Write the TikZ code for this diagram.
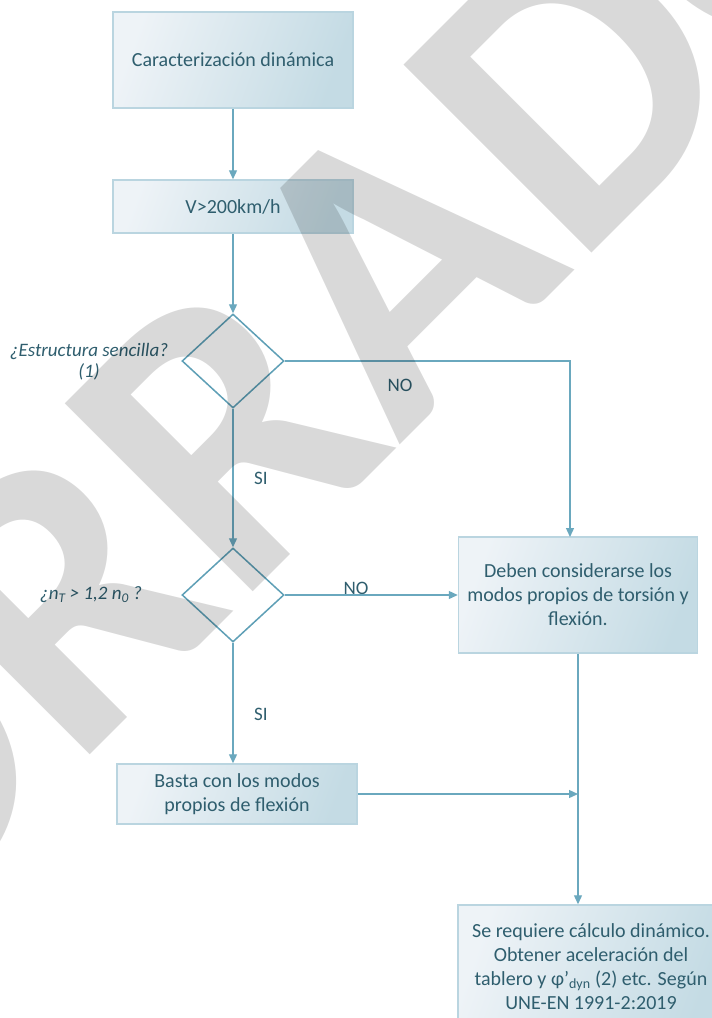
\documentclass[tikz,border=0pt]{standalone}
\usepackage{fontspec}
\setmainfont{Carlito}
\usetikzlibrary{shapes.geometric,arrows.meta}
\definecolor{txt}{HTML}{2F5E6E}
\definecolor{ln}{HTML}{6AA8BE}
\definecolor{bord}{HTML}{BAD5E0}
\definecolor{bl}{HTML}{EEF3F7}
\definecolor{bd}{HTML}{C4DBE4}
\definecolor{dline}{HTML}{5E9FB6}
\begin{document}
\begin{tikzpicture}[x=1pt,y=-1pt,
  box/.style={draw=bord, line width=1.5pt, left color=bl, right color=bd, shading angle=70,
    text=txt, align=center, inner sep=0pt, font=\fontsize{20}{24}\selectfont},
  diam/.style={draw=dline, line width=1.5pt, shape=diamond, minimum width=102pt,
    minimum height=94pt, inner sep=0pt},
  conn/.style={draw=ln, line width=1.3pt, -{Triangle[length=9pt,width=8pt]}},
  lbl/.style={text=txt, align=center, inner sep=0pt, font=\fontsize{19}{21}\selectfont},
  wm/.style={text=black, opacity=0.15, inner sep=0pt, font=\fontsize{410}{410}\selectfont\bfseries}]
\useasboundingbox (0,0) rectangle (712,1018);
\fill[white] (0,0) rectangle (712,1018);
\clip (0,0) rectangle (712,1018);

\node[box, minimum width=240pt, minimum height=96pt] (b1) at (233,60) {Caracterización dinámica};
\node[box, minimum width=240pt, minimum height=53pt] (b2) at (233,206.5) {V>200km/h};
\node[diam] (d1) at (233,361) {};
\node[diam] (d2) at (233,595) {};
\node[box, minimum width=239pt, minimum height=116pt] (b3) at (578,595)
  {Deben considerarse los\\ modos propios de torsión y\\ flexión.};
\node[box, minimum width=240pt, minimum height=60pt] (b4) at (237,794)
  {Basta con los modos\\ propios de flexión};
\node[box, minimum width=266pt, minimum height=124pt] (b5) at (591,967)
  {Se requiere cálculo dinámico.\\ Obtener aceleración del\\ tablero y φ’\textsubscript{dyn} (2) etc. Según\\ UNE-EN 1991-2:2019};

\node[lbl, font=\fontsize{19}{21}\selectfont\itshape] (q1) at (89,362) {¿Estructura sencilla?\\ (1)};
\node[lbl, font=\fontsize{19}{21}\selectfont\itshape] (q2) at (91,595)
  {¿n\textsubscript{T} > 1,2 n\textsubscript{0} ?};
\node[lbl] (no1) at (400,385) {NO};
\node[lbl] (si1) at (261,478) {SI};
\node[lbl] (no2) at (356,588) {NO};
\node[lbl] (si2) at (261,714) {SI};

\coordinate (c1) at (570,361);
\coordinate (c2) at (570,537);

\draw[conn] (b1.south) -- (b2.north);
\draw[conn] (b2.south) -- (d1.north);
\draw[conn] (d1.east) -- (c1) -- (c2);
\draw[conn] (d1.south) -- (d2.north);
\draw[conn] (d2.east) -- (b3.west);
\draw[conn] (d2.south) -- (d2.south |- b4.north);
\draw[conn] (b3.south) -- (b3.south |- b5.north);
\draw[conn] (b4.east) -- (b4.east -| b3.south);

\node[wm, rotate=45] (w) at (322,335) {BORRADOR};
\end{tikzpicture}
\end{document}
